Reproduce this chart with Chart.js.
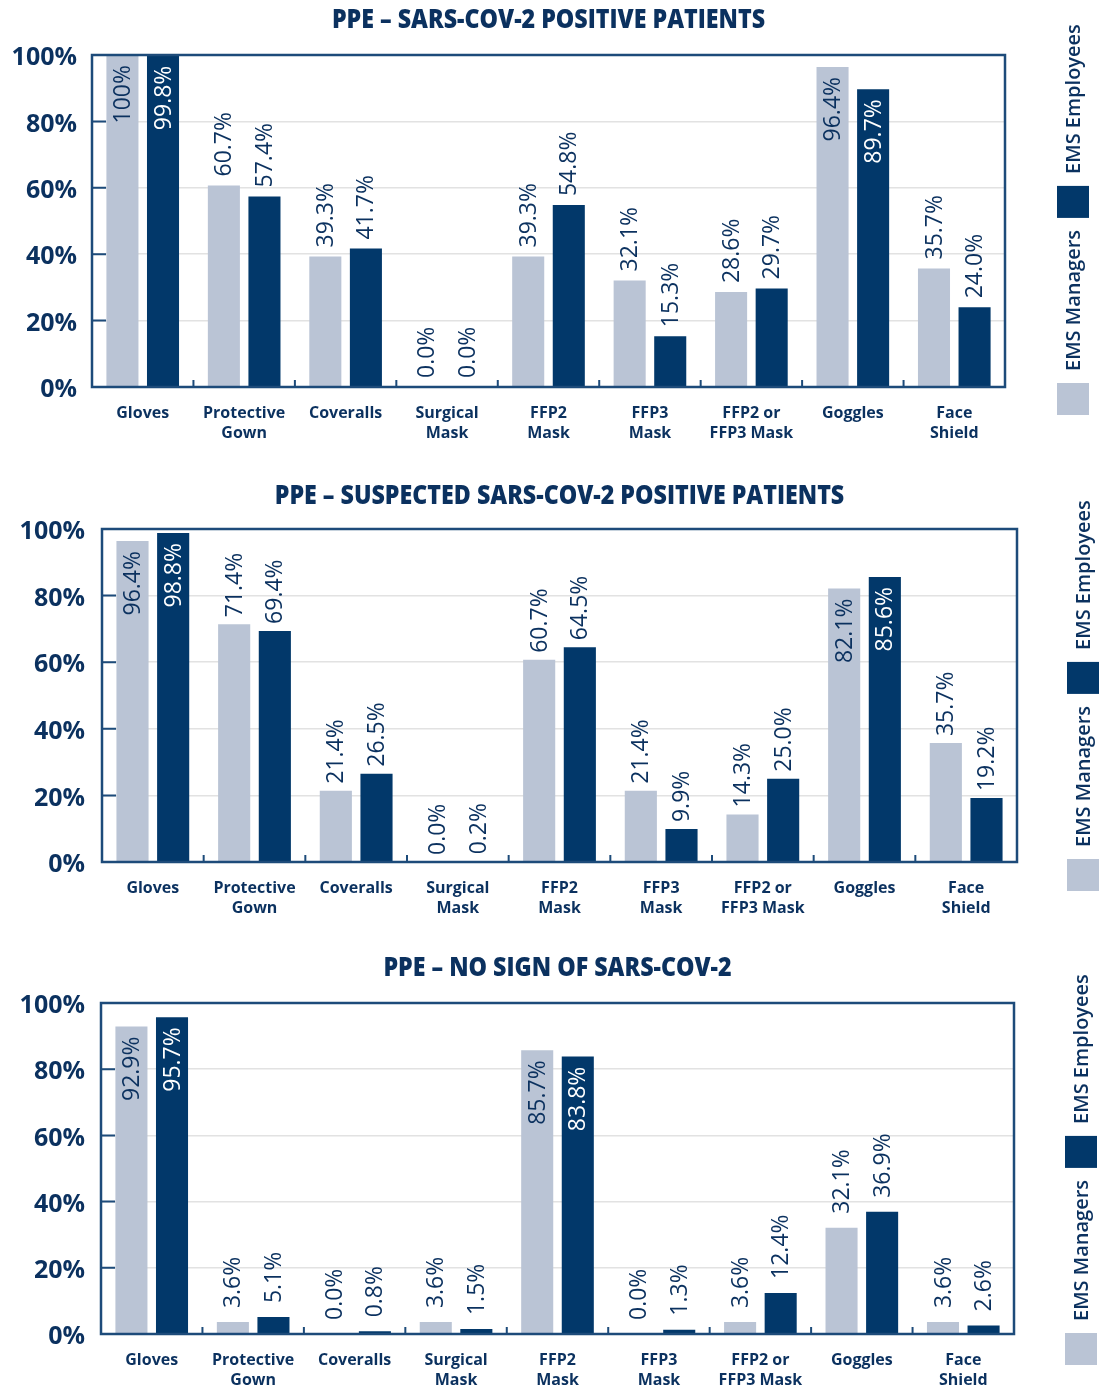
<!DOCTYPE html>
<html>
<head>
<meta charset="utf-8">
<script src="https://cdn.jsdelivr.net/npm/chart.js@4.4.1/dist/chart.umd.min.js"></script>
<style>
  body { margin: 0; background: #fff; width: 1101px; height: 1389px; position: relative; overflow: hidden; }
  canvas { position: absolute; left: 0; }
</style>
</head>
<body>
<canvas id="c1" width="1101" height="455" style="top:0px"></canvas>
<canvas id="c2" width="1101" height="460" style="top:470px"></canvas>
<canvas id="c3" width="1101" height="449" style="top:940px"></canvas>
<script>
// categories and series
const categories = [['Gloves'], ['Protective', 'Gown'], ['Coveralls'], ['Surgical', 'Mask'], ['FFP2', 'Mask'],
    ['FFP3', 'Mask'], ['FFP2 or', 'FFP3 Mask'], ['Goggles'], ['Face', 'Shield']];
const seriesNames = ['EMS Managers', 'EMS Employees'];
const yTicks = [0, 20, 40, 60, 80, 100];

const titles = ['PPE – SARS-COV-2 POSITIVE PATIENTS', 'PPE – SUSPECTED SARS-COV-2 POSITIVE PATIENTS', 'PPE – NO SIGN OF SARS-COV-2'];

const positiveManagers  = [100, 60.7, 39.3, 0.0, 39.3, 32.1, 28.6, 96.4, 35.7];
const positiveEmployees = [99.8, 57.4, 41.7, 0.0, 54.8, 15.3, 29.7, 89.7, 24.0];

const suspectedManagers  = [96.4, 71.4, 21.4, 0.0, 60.7, 21.4, 14.3, 82.1, 35.7];
const suspectedEmployees = [98.8, 69.4, 26.5, 0.2, 64.5, 9.9, 25.0, 85.6, 19.2];

const noSignManagers  = [92.9, 3.6, 0.0, 3.6, 85.7, 0.0, 3.6, 32.1, 3.6];
const noSignEmployees = [95.7, 5.1, 0.8, 1.5, 83.8, 1.3, 12.4, 36.9, 2.6];

const NAVY = '#0b315f';
const FRAME = '#1d4b7a';
const LIGHT = '#bac4d5';
const DARK = '#02386a';

function fmt(v) {
    return v === 100 ? '100%' : v.toFixed(1) + '%';
}

const decor = {
    id: 'decor',
    afterDatasetsDraw(chart, args, opts) {
        const ctx = chart.ctx;
        const a = chart.chartArea;
        const xs = chart.scales.x, ys = chart.scales.y;
        ctx.save();
        // frame + inner ticks
        ctx.strokeStyle = FRAME;
        ctx.lineWidth = 2.5;
        ctx.strokeRect(a.left, a.top, a.right - a.left, a.bottom - a.top);
        ctx.lineWidth = 2;
        ctx.beginPath();
        yTicks.slice(1, -1).forEach(v => {
            const y = ys.getPixelForValue(v);
            ctx.moveTo(a.left, y);
            ctx.lineTo(a.left + 14, y);
        });
        for (let i = 1; i < categories.length; i++) {
            const x = (xs.getPixelForValue(i - 1) + xs.getPixelForValue(i)) / 2;
            ctx.moveTo(x, a.bottom);
            ctx.lineTo(x, a.bottom - 7);
        }
        ctx.stroke();

        // value labels
        ctx.font = '400 23px "Open Sans"';
        ctx.textBaseline = 'middle';
        chart.data.datasets.forEach((ds, di) => {
            chart.getDatasetMeta(di).data.forEach((bar, i) => {
                const v = ds.data[i];
                const inside = v >= 75;
                ctx.save();
                ctx.translate(bar.x, inside ? bar.y + 10 : bar.y - opts.gap);
                ctx.rotate(-Math.PI / 2);
                ctx.textAlign = inside ? 'right' : 'left';
                ctx.fillStyle = inside && di === 1 ? '#ffffff' : NAVY;
                ctx.fillText(fmt(v), 0, 1);
                ctx.restore();
            });
        });
        ctx.restore();
    },
    afterDraw(chart, args, opts) {
        const ctx = chart.ctx;
        const a = chart.chartArea;
        ctx.save();
        // title
        ctx.fillStyle = NAVY;
        ctx.font = '800 27px "Open Sans"';
        ctx.textAlign = 'center';
        ctx.textBaseline = 'middle';
        ctx.translate((a.left + a.right) / 2, opts.titleY);
        ctx.scale(0.86, 1);
        ctx.fillText(opts.title, 0, 0);
        ctx.restore();

        // vertical legend, drawn bottom to top
        ctx.save();
        ctx.font = '600 20px "Open Sans"';
        ctx.textBaseline = 'middle';
        ctx.textAlign = 'left';
        let y = opts.legendBottom;
        const sw = 32;
        chart.data.datasets.forEach(ds => {
            ctx.fillStyle = ds.backgroundColor;
            ctx.fillRect(opts.legendX - sw / 2, y - sw, sw, sw);
            y -= sw + 12;
            ctx.save();
            ctx.translate(opts.legendX, y);
            ctx.rotate(-Math.PI / 2);
            ctx.fillStyle = NAVY;
            ctx.fillText(ds.label, 0, 1);
            ctx.restore();
            y -= ctx.measureText(ds.label).width + 12;
        });
        ctx.restore();
    }
};

function makeChart(id, managers, employees, cfg) {
    return new Chart(document.getElementById(id), {
        type: 'bar',
        data: {
            labels: categories,
            datasets: [
                { label: seriesNames[0], data: managers, backgroundColor: LIGHT },
                { label: seriesNames[1], data: employees, backgroundColor: DARK }
            ]
        },
        options: {
            responsive: false,
            animation: false,
            layout: { padding: { top: cfg.top, right: cfg.right, bottom: 0, left: 0 } },
            datasets: { bar: { categoryPercentage: 0.8, barPercentage: 0.79 } },
            scales: {
                x: {
                    grid: { display: false },
                    border: { display: false },
                    ticks: {
                        color: NAVY,
                        padding: 8,
                        maxRotation: 0,
                        autoSkip: false,
                        font: { family: 'Open Sans', size: 16, weight: '700', lineHeight: 1.25 }
                    },
                    afterFit(scale) { scale.height = cfg.xHeight; }
                },
                y: {
                    min: 0,
                    max: 100,
                    grid: { color: '#e2e2e2', lineWidth: 1.5, drawTicks: false },
                    border: { display: false },
                    ticks: {
                        stepSize: 20,
                        color: NAVY,
                        padding: cfg.tickPad,
                        labelOffset: 3,
                        font: { family: 'Open Sans', size: 25, weight: '700' },
                        callback: v => v + '%'
                    },
                    afterFit(scale) { scale.width = cfg.left; }
                }
            },
            plugins: {
                legend: { display: false },
                tooltip: { enabled: false },
                decor: {
                    title: cfg.title,
                    titleY: cfg.titleY,
                    gap: cfg.gap,
                    legendX: cfg.legendX,
                    legendBottom: cfg.legendBottom
                }
            }
        },
        plugins: [decor]
    });
}

makeChart('c1', positiveManagers, positiveEmployees, {
    title: titles[0], titleY: 20, top: 55, right: 96, left: 92, xHeight: 68, tickPad: 15,
    gap: 9, legendX: 1073, legendBottom: 415
});
makeChart('c2', suspectedManagers, suspectedEmployees, {
    title: titles[1], titleY: 26, top: 59, right: 84, left: 102, xHeight: 68, tickPad: 17,
    gap: 7, legendX: 1083, legendBottom: 421
});
makeChart('c3', noSignManagers, noSignEmployees, {
    title: titles[2], titleY: 28, top: 63, right: 87, left: 101, xHeight: 55, tickPad: 16,
    gap: 14, legendX: 1081, legendBottom: 425
});
</script>
</body>
</html>
